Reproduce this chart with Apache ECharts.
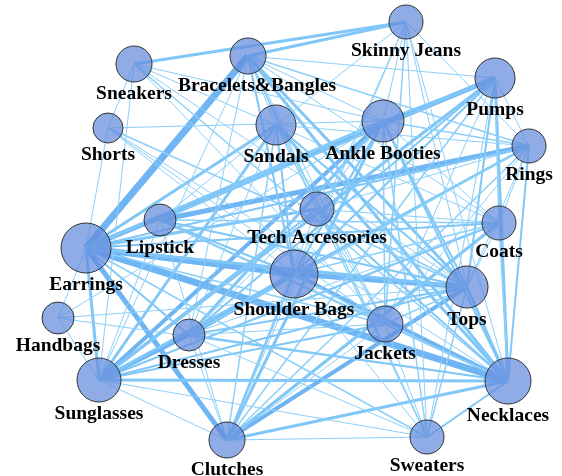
<!DOCTYPE html>
<html>
<head>
<meta charset="utf-8">
<script src="https://cdn.jsdelivr.net/npm/echarts@6/dist/echarts.min.js"></script>
<style>
  html, body { margin: 0; padding: 0; background: #fff; }
  #main { width: 562px; height: 476px; }
</style>
</head>
<body>
<div id="main"></div>
<script>
// nodes: name, layout position (x, y) and weight
const nodeNames = ['Skinny Jeans', 'Bracelets&Bangles', 'Sneakers', 'Pumps', 'Shorts', 'Sandals',
  'Ankle Booties', 'Rings', 'Lipstick', 'Tech Accessories', 'Coats', 'Earrings', 'Shoulder Bags',
  'Tops', 'Handbags', 'Jackets', 'Dresses', 'Sunglasses', 'Necklaces', 'Clutches', 'Sweaters'];
const layoutX = [406, 248, 134, 495, 108, 276, 383, 529, 160, 317, 499, 86, 294, 467, 58, 385, 189, 99, 508, 227, 427];
const layoutY = [22, 56, 64, 78, 128, 125, 121, 146, 220, 209, 223, 248, 274, 287, 318, 324, 335, 380, 381, 440, 437];
const nodeWeight = [17, 18, 18, 20, 15, 20, 21, 17, 16, 17, 17, 25, 24, 21, 16, 18, 16, 22, 23, 18, 17];

// edges: source, target, weight
const edgeSource = [
  'Earrings', 'Earrings', 'Earrings', 'Earrings', 'Rings', 'Pumps', 'Shoulder Bags', 'Dresses', 'Ankle Booties', 'Shoulder Bags',
  'Sneakers', 'Skinny Jeans', 'Tops', 'Pumps', 'Sunglasses', 'Sunglasses', 'Sunglasses', 'Clutches', 'Clutches', 'Clutches',
  'Sandals', 'Bracelets&Bangles', 'Bracelets&Bangles', 'Ankle Booties', 'Ankle Booties', 'Sandals', 'Tech Accessories', 'Sandals', 'Jackets', 'Clutches',
  'Skinny Jeans', 'Skinny Jeans', 'Skinny Jeans', 'Skinny Jeans', 'Skinny Jeans', 'Skinny Jeans', 'Skinny Jeans', 'Skinny Jeans', 'Skinny Jeans',
  'Bracelets&Bangles', 'Bracelets&Bangles', 'Bracelets&Bangles', 'Bracelets&Bangles', 'Bracelets&Bangles', 'Bracelets&Bangles', 'Bracelets&Bangles', 'Bracelets&Bangles', 'Bracelets&Bangles', 'Bracelets&Bangles', 'Bracelets&Bangles',
  'Sneakers', 'Sneakers', 'Sneakers', 'Sneakers', 'Sneakers', 'Sneakers', 'Sneakers',
  'Shorts', 'Shorts', 'Shorts', 'Shorts', 'Shorts', 'Shorts',
  'Pumps', 'Pumps', 'Pumps', 'Pumps', 'Pumps', 'Pumps', 'Pumps', 'Pumps', 'Pumps', 'Pumps', 'Pumps',
  'Ankle Booties', 'Ankle Booties', 'Ankle Booties', 'Ankle Booties', 'Ankle Booties', 'Ankle Booties', 'Ankle Booties', 'Ankle Booties', 'Ankle Booties', 'Ankle Booties',
  'Sandals', 'Sandals', 'Sandals', 'Sandals', 'Sandals', 'Sandals', 'Sandals', 'Sandals', 'Sandals', 'Sandals',
  'Rings', 'Rings', 'Rings', 'Rings', 'Rings', 'Rings', 'Rings', 'Rings', 'Rings', 'Rings',
  'Lipstick', 'Lipstick', 'Lipstick', 'Lipstick', 'Lipstick', 'Lipstick', 'Lipstick',
  'Tech Accessories', 'Tech Accessories', 'Tech Accessories', 'Tech Accessories', 'Tech Accessories', 'Tech Accessories', 'Tech Accessories', 'Tech Accessories',
  'Coats', 'Coats', 'Coats', 'Coats', 'Coats', 'Coats',
  'Earrings', 'Earrings', 'Earrings', 'Earrings', 'Earrings',
  'Shoulder Bags', 'Shoulder Bags', 'Shoulder Bags', 'Shoulder Bags',
  'Tops', 'Tops', 'Tops', 'Tops', 'Tops',
  'Handbags', 'Handbags',
  'Jackets', 'Jackets', 'Jackets', 'Jackets',
  'Dresses', 'Dresses', 'Dresses',
  'Sunglasses', 'Sunglasses', 'Necklaces', 'Clutches'
];
const edgeTarget = [
  'Bracelets&Bangles', 'Necklaces', 'Shoulder Bags', 'Clutches', 'Lipstick', 'Earrings', 'Tops', 'Shoulder Bags', 'Sunglasses', 'Necklaces',
  'Skinny Jeans', 'Bracelets&Bangles', 'Necklaces', 'Necklaces', 'Necklaces', 'Dresses', 'Earrings', 'Tops', 'Coats', 'Ankle Booties',
  'Necklaces', 'Tops', 'Necklaces', 'Dresses', 'Earrings', 'Earrings', 'Earrings', 'Sunglasses', 'Sunglasses', 'Necklaces',
  'Sandals', 'Ankle Booties', 'Rings', 'Jackets', 'Tops', 'Necklaces', 'Sweaters', 'Shoulder Bags', 'Clutches',
  'Sandals', 'Ankle Booties', 'Pumps', 'Rings', 'Coats', 'Jackets', 'Sweaters', 'Tech Accessories', 'Shoulder Bags', 'Sunglasses', 'Dresses',
  'Shorts', 'Sunglasses', 'Sandals', 'Tops', 'Necklaces', 'Ankle Booties', 'Jackets',
  'Ankle Booties', 'Tops', 'Necklaces', 'Earrings', 'Jackets', 'Shoulder Bags',
  'Tops', 'Coats', 'Rings', 'Sunglasses', 'Dresses', 'Shoulder Bags', 'Clutches', 'Lipstick', 'Jackets', 'Sweaters', 'Ankle Booties',
  'Necklaces', 'Tops', 'Jackets', 'Rings', 'Coats', 'Shoulder Bags', 'Sweaters', 'Tech Accessories', 'Lipstick', 'Handbags',
  'Tops', 'Jackets', 'Shoulder Bags', 'Rings', 'Coats', 'Clutches', 'Dresses', 'Tech Accessories', 'Sweaters', 'Lipstick',
  'Earrings', 'Sunglasses', 'Necklaces', 'Tops', 'Coats', 'Shoulder Bags', 'Clutches', 'Jackets', 'Dresses', 'Tech Accessories',
  'Necklaces', 'Tops', 'Shoulder Bags', 'Jackets', 'Sunglasses', 'Clutches', 'Coats',
  'Sunglasses', 'Necklaces', 'Tops', 'Clutches', 'Jackets', 'Dresses', 'Sweaters', 'Coats',
  'Earrings', 'Sunglasses', 'Necklaces', 'Tops', 'Shoulder Bags', 'Dresses',
  'Jackets', 'Sweaters', 'Tops', 'Dresses', 'Handbags',
  'Sunglasses', 'Clutches', 'Jackets', 'Sweaters',
  'Sunglasses', 'Jackets', 'Dresses', 'Sweaters', 'Handbags',
  'Sunglasses', 'Necklaces',
  'Necklaces', 'Clutches', 'Sweaters', 'Dresses',
  'Necklaces', 'Clutches', 'Sweaters',
  'Sweaters', 'Clutches', 'Sweaters', 'Sweaters'
];
const edgeWeight = [
  7, 7, 6, 5, 5, 5, 5, 5, 4, 4,
  3, 3, 3, 3, 3, 4, 3, 4, 3, 3,
  3, 3, 3, 3, 3, 3, 3, 3, 2, 3,
  1, 1, 1, 1.5, 1, 1, 1, 1, 1,
  1, 1, 1, 1.5, 1, 1, 1.5, 1, 2, 1, 1,
  1, 1, 1, 1, 1.5, 1, 1,
  1, 1.5, 1, 1, 1, 1,
  2, 1.5, 1, 3, 2, 2, 1.5, 2, 1, 1, 2,
  2, 2, 1.5, 1.5, 1, 2, 1.5, 1, 1, 1,
  2, 1, 2, 1, 1, 1.5, 1, 1, 1, 1,
  2, 2, 2, 1, 1, 2, 1.5, 1, 1.5, 1,
  2, 2, 2, 1, 1, 1, 1.5,
  2, 2, 1.5, 1, 1, 1, 1, 1,
  2, 2, 1.5, 1, 1.5, 1,
  1.5, 1.5, 3, 2, 1,
  3, 2, 1.5, 1,
  2, 1.5, 2, 1.5, 1,
  1, 1,
  1.5, 1, 1, 1,
  2, 1, 1,
  1, 1, 2, 1
];

function edgeColor(w) {
  if (w >= 4) return '#6fb5f3';
  if (w >= 2) return '#80c7f8';
  return '#8cd0fa';
}

const nodes = nodeNames.map((name, i) => ({
  name: name,
  value: [layoutX[i], layoutY[i]],
  symbolSize: nodeWeight[i] * 2,
  // the long label sits a little right of its node in the original
  label: name === 'Bracelets&Bangles' ? { offset: [9, 0] } : undefined
}));

const links = edgeSource.map((s, i) => ({
  source: s,
  target: edgeTarget[i],
  lineStyle: { width: edgeWeight[i], color: edgeColor(edgeWeight[i]) }
}));

const chart = echarts.init(document.getElementById('main'));
chart.setOption({
  backgroundColor: '#ffffff',
  animation: false,
  grid: { left: 0, right: 0, top: 0, bottom: 0 },
  xAxis: { type: 'value', min: 0, max: 562, show: false },
  yAxis: { type: 'value', min: 0, max: 476, inverse: true, show: false },
  series: [{
    type: 'graph',
    layout: 'none',
    coordinateSystem: 'cartesian2d',
    data: nodes,
    links: links,
    symbol: 'circle',
    itemStyle: {
      color: 'rgba(100,140,220,0.72)',
      borderColor: '#333',
      borderWidth: 1
    },
    lineStyle: { opacity: 1, curveness: 0 },
    label: {
      show: true,
      position: 'bottom',
      distance: 1,
      color: '#000',
      fontFamily: 'Liberation Serif',
      fontWeight: 'bold',
      fontSize: 19.5
    }
  }]
});
</script>
</body>
</html>
